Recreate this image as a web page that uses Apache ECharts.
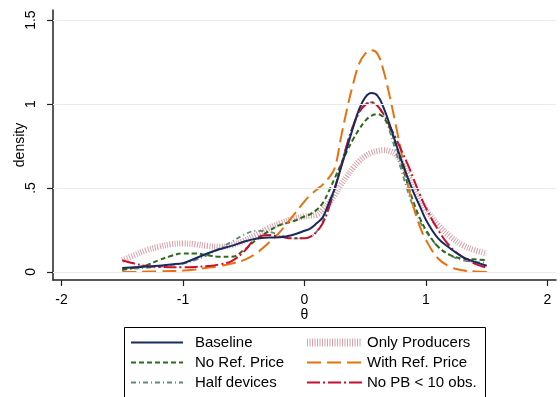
<!DOCTYPE html>
<html><head><meta charset="utf-8">
<script src="https://cdn.jsdelivr.net/npm/echarts@6/dist/echarts.min.js"></script>
<style>html,body{margin:0;padding:0;background:#fff}#c{width:560px;height:397px}</style>
</head><body><div id="c"></div>
<script>
var xs = [-1.5,-1.4,-1.3,-1.2,-1.1,-1.0,-0.9,-0.8,-0.7,-0.6,-0.5,-0.4,-0.3,-0.2,-0.1,0,0.05,0.1,0.15,0.2,0.25,0.3,0.35,0.4,0.45,0.5,0.55,0.6,0.65,0.7,0.75,0.8,0.85,0.9,0.95,1.0,1.1,1.2,1.3,1.4,1.5];
var baseline = [0.024,0.028,0.032,0.037,0.045,0.052,0.08,0.11,0.135,0.155,0.18,0.198,0.205,0.206,0.22,0.245,0.26,0.29,0.325,0.41,0.50,0.62,0.74,0.86,0.97,1.04,1.065,1.05,0.98,0.88,0.77,0.66,0.56,0.47,0.39,0.31,0.20,0.14,0.09,0.06,0.037];
var noRefPrice = [0.012,0.025,0.04,0.07,0.095,0.11,0.11,0.10,0.09,0.09,0.13,0.19,0.24,0.28,0.30,0.33,0.345,0.37,0.41,0.48,0.56,0.64,0.72,0.79,0.85,0.90,0.93,0.94,0.92,0.86,0.76,0.64,0.52,0.41,0.32,0.25,0.15,0.10,0.08,0.075,0.07];
var halfDevices = [0.015,0.02,0.025,0.03,0.04,0.05,0.07,0.10,0.14,0.18,0.22,0.245,0.24,0.22,0.20,0.20,0.21,0.24,0.30,0.39,0.50,0.63,0.76,0.87,0.95,1.0,1.01,0.99,0.93,0.84,0.72,0.60,0.48,0.38,0.30,0.24,0.15,0.10,0.07,0.06,0.055];
var onlyProducers = [0.07,0.10,0.13,0.15,0.165,0.17,0.165,0.155,0.15,0.16,0.185,0.22,0.26,0.29,0.315,0.33,0.335,0.34,0.37,0.41,0.46,0.52,0.57,0.62,0.66,0.69,0.71,0.72,0.725,0.72,0.70,0.65,0.58,0.50,0.43,0.37,0.28,0.21,0.16,0.13,0.11];
var withRefPrice = [0.0,0.0,0.002,0.003,0.005,0.008,0.015,0.025,0.035,0.05,0.07,0.11,0.17,0.24,0.33,0.42,0.46,0.49,0.52,0.56,0.62,0.80,0.97,1.12,1.24,1.30,1.32,1.30,1.20,1.05,0.88,0.70,0.52,0.38,0.27,0.19,0.08,0.03,0.01,0.003,0.0];
var noPB10 = [0.07,0.05,0.035,0.03,0.028,0.028,0.03,0.035,0.045,0.065,0.12,0.20,0.22,0.21,0.20,0.20,0.21,0.24,0.29,0.38,0.50,0.63,0.76,0.87,0.95,0.995,1.01,0.99,0.94,0.87,0.80,0.72,0.64,0.55,0.46,0.38,0.25,0.15,0.09,0.05,0.025];
var xTicks = [-2,-1,0,1,2];
var yTicks = [0,0.5,1,1.5];
var yTickLabels = ['0','.5','1','1.5'];
var seriesNames = ['Baseline','No Ref. Price','Half devices','Only Producers','With Ref. Price','No PB < 10 obs.'];

function zip(ys){ return xs.map(function(x,i){ return [x, ys[i]]; }); }
var FONT = 'Liberation Sans, Arial, sans-serif';
var chart = echarts.init(document.getElementById('c'), null, {renderer:'canvas'});
function mk(name, ys, color, width, type, z){
  return {name:name, type:'line', data:zip(ys), smooth:0.4, showSymbol:false, symbol:'none',
    lineStyle:{color:color, width:width, type:type}, itemStyle:{color:color}, z:z, animation:false};
}
var series = [
  {type:'line', data:[], silent:true, z:1, animation:false,
   markLine:{silent:true, symbol:['none','none'], label:{show:false}, animation:false,
     lineStyle:{color:'#e4edf0', width:1, type:'solid'},
     data: yTicks.map(function(v){ return {yAxis:v}; })}},
  mk(seriesNames[3], onlyProducers, '#d9a0a8', 6, [1,1.5], 2),
  mk(seriesNames[2], halfDevices, '#5e8a80', 1.8, [5,3,1,3], 3),
  mk(seriesNames[1], noRefPrice, '#2f6a1f', 2, [5,3], 3),
  mk(seriesNames[4], withRefPrice, '#e8700e', 2, [14,6], 3),
  mk(seriesNames[5], noPB10, '#c8102e', 2, [13,3,2,3], 3),
  mk(seriesNames[0], baseline, '#1a2a5e', 2, 'solid', 4)
];
var legendCommon = {orient:'vertical', top:335, padding:0, itemHeight:14, itemGap:5, selectedMode:false,
  itemStyle:{color:'rgba(0,0,0,0)', borderColor:'rgba(0,0,0,0)', borderWidth:0, opacity:0}};
chart.setOption({
  animation:false,
  grid:{left:53, right:4, top:10, bottom:117, containLabel:false},
  xAxis:{type:'value', min:-2.07, max:2.07, name:'θ', nameLocation:'middle', nameGap:28, nameMoveOverlap:false,
    nameTextStyle:{fontSize:14, color:'#000', fontFamily:FONT},
    axisLine:{show:true, onZero:false, lineStyle:{color:'#222', width:1.5}},
    axisTick:{show:true, length:6, customValues:xTicks, lineStyle:{color:'#222', width:1.2}},
    axisLabel:{customValues:xTicks, fontSize:14, color:'#000', fontFamily:FONT, margin:13},
    splitLine:{show:false}},
  yAxis:{type:'value', min:-0.048, max:1.56, name:'density', nameLocation:'middle', nameGap:26, nameRotate:90, nameMoveOverlap:false,
    nameTextStyle:{fontSize:14, color:'#000', fontFamily:FONT},
    axisLine:{show:true, onZero:false, lineStyle:{color:'#222', width:1.5}},
    axisTick:{show:true, length:6, customValues:yTicks, lineStyle:{color:'#222', width:1.2}},
    axisLabel:{customValues:yTicks, rotate:90, fontSize:14, color:'#000', fontFamily:FONT, margin:15,
      formatter:function(v){ var i = yTicks.indexOf(v); return i>=0 ? yTickLabels[i] : ''; }},
    splitLine:{show:false}},
  graphic:[{type:'rect', shape:{x:124.5, y:327.5, width:361, height:90}, style:{fill:'#fff', stroke:'#000', lineWidth:1}, z:-1, silent:true}],
  legend:[
    Object.assign({}, legendCommon, {left:130, itemWidth:52,
     textStyle:{fontSize:15, color:'#000', fontFamily:FONT, padding:[0,0,0,7]},
     data:[seriesNames[0], seriesNames[1], seriesNames[2]]}),
    Object.assign({}, legendCommon, {left:303, itemWidth:55,
     textStyle:{fontSize:15, color:'#000', fontFamily:FONT, padding:[0,0,0,0]},
     data:[{name:seriesNames[3], lineStyle:{width:8}}, seriesNames[4], seriesNames[5]]})
  ],
  series: series
});
</script></body></html>
